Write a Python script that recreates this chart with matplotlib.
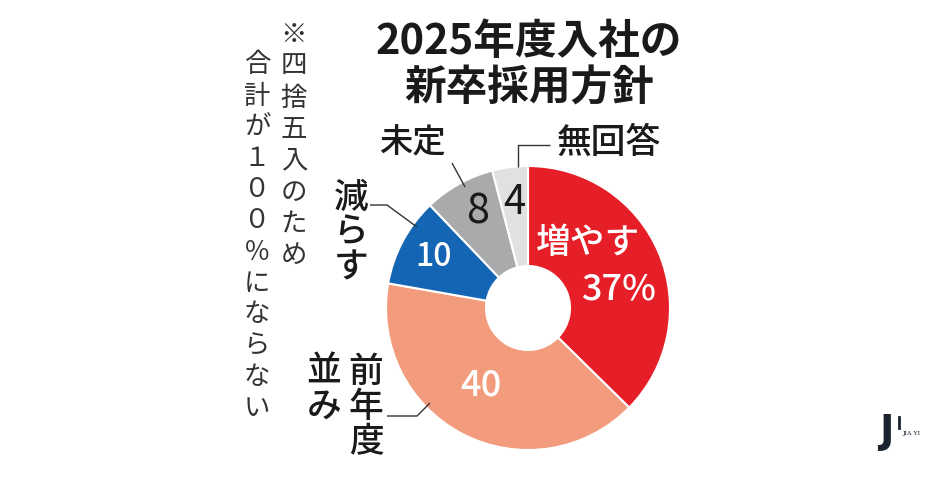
import matplotlib
matplotlib.use("Agg")
import matplotlib.pyplot as plt

# data
labels = ["増やす", "前年度並み", "減らす", "未定", "無回答"]
values = [37, 40, 10, 8, 4]
colors = ["#E61E28", "#F39B7D", "#1466B4", "#A9AAAC", "#E1E1E3"]
value_texts = ["37%", "40", "10", "8", "4"]
title_lines = ["2025年度入社の", "新卒採用方針"]
note_cols = ["※四捨五入のため", "合計が１００％にならない"]

plt.rcParams['font.family'] = ['Noto Sans CJK JP', 'DejaVu Sans']

W, H = 940, 484
fig = plt.figure(figsize=(W / 100, H / 100), dpi=100)
ax = fig.add_axes([0, 0, 1, 1])

# donut
cx, cy = 528, H - 308
R = 142
ax.pie(values, colors=colors, startangle=90, counterclock=False,
       radius=R, center=(cx, cy), frame=True,
       wedgeprops=dict(width=100, edgecolor='white', linewidth=1.5))
ax.set_xlim(0, W)
ax.set_ylim(0, H)
ax.axis('off')


def t(x, y, s, **kw):
    kw.setdefault('ha', 'center')
    kw.setdefault('va', 'center')
    kw.setdefault('fontweight', 'medium')
    ax.text(x, H - y, s, **kw)


def vtext(x, y0, s, step, **kw):
    # vertical (tategaki) text, one char per row
    for i, ch in enumerate(s):
        t(x, y0 + i * step, ch, **kw)


def line(xs, ys):
    ax.plot(xs, [H - y for y in ys], color='#333333', lw=1.0, solid_capstyle='butt')


# title
t(529, 42, title_lines[0], fontsize=30, fontweight='bold', color='#1a1a1a')
t(529, 89, title_lines[1], fontsize=30, fontweight='bold', color='#1a1a1a')

# vertical note
vtext(294, 35, note_cols[0], 31.5, fontsize=19, fontweight='normal', color='#333333')
vtext(257, 65, note_cols[1], 31.2, fontsize=19, fontweight='normal', color='#333333')

# outside labels
t(412, 143, labels[3], fontsize=24, color='#1a1a1a')
t(609, 143, labels[4], fontsize=25, color='#1a1a1a')
vtext(351, 198, labels[2], 35, fontsize=25, color='#1a1a1a')
vtext(366, 372, labels[1][:3], 35, fontsize=25, color='#1a1a1a')
vtext(324, 372, labels[1][3:], 35, fontsize=25, color='#1a1a1a')

# leader lines
line([518, 518, 550], [167, 145, 145])
line([452, 465], [163, 187])
line([370, 387, 417], [205, 205, 227])
line([387, 417, 430], [416, 416, 403])

# values in slices
t(588, 243, labels[0], fontsize=25, color='white')
t(618, 290, value_texts[0], fontsize=26, color='white')
t(481, 386, value_texts[1], fontsize=26, color='white')
t(434, 257, value_texts[2], fontsize=23, color='white')
t(478, 212, value_texts[3], fontsize=30, fontweight='normal', color='#1a1a1a')
t(514, 202, value_texts[4], fontsize=29, fontweight='normal', color='#1a1a1a')

# logo
t(886, 432, "J", fontsize=28, fontweight='bold', color='#1B2230', family='DejaVu Sans')
ax.plot([899, 899], [H - 417, H - 428], color='#1B2230', lw=2)
t(912, 433, "JIA YI", fontsize=4.5, fontweight='normal', color='#1B2230', family='DejaVu Serif')

fig.savefig("out.png", dpi=100)
